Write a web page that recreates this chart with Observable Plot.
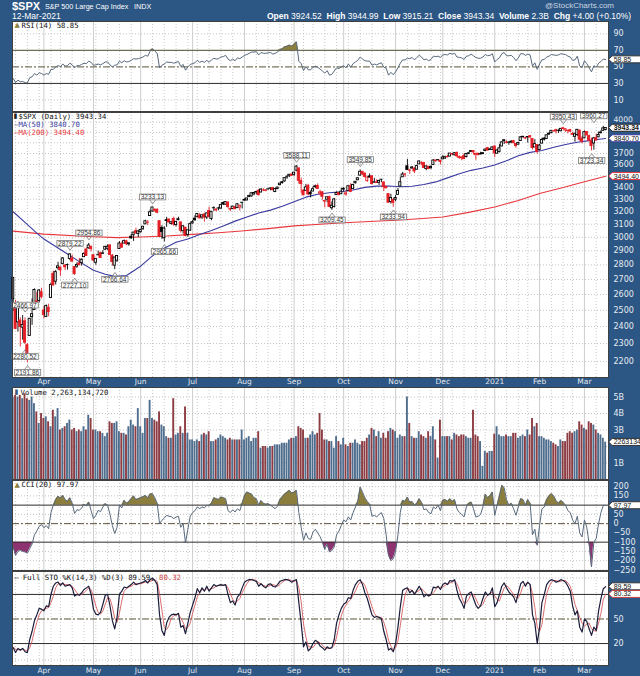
<!DOCTYPE html>
<html><head><meta charset="utf-8">
<script src="https://cdn.jsdelivr.net/npm/d3@7"></script>
<script src="https://cdn.jsdelivr.net/npm/@observablehq/plot@0.6"></script>
<style>
html,body{margin:0;padding:0;background:#2c5684;}
#chart{position:relative;width:640px;height:676px;background:#2c5684;overflow:hidden;}
.pane{position:absolute;left:0;}
.pane svg{display:block;}
.hdr{position:absolute;white-space:nowrap;color:#fff;font-family:"Liberation Sans",Arial,sans-serif;}
</style></head><body>
<div id="chart">
 <div class="hdr" style="left:12px;top:0px;font-size:11px;font-weight:bold;">$SPX</div>
 <div class="hdr" style="left:45px;top:2px;font-size:7.2px;">S&amp;P 500 Large Cap Index</div>
 <div class="hdr" style="left:134px;top:2px;font-size:7.2px;">INDX</div>
 <div class="hdr" style="left:12px;top:11px;font-size:8.5px;">12-Mar-2021</div>
 <div class="hdr" style="left:545px;top:1px;font-size:8px;color:#c9d5e2;">@StockCharts.com</div>
 <div class="hdr" style="left:267px;top:11px;font-size:8.5px;"><b>Open</b> 3924.52&nbsp; <b>High</b> 3944.99&nbsp; <b>Low</b> 3915.21&nbsp; <b>Close</b> 3943.34&nbsp; <b>Volume</b> 2.3B&nbsp; <b>Chg</b> +4.00 (+0.10%)</div>
</div>
<script>
// ---------------- DATA ----------------
const tradingMonths = ["2020-03","2020-04","2020-05","2020-06","2020-07","2020-08","2020-09","2020-10","2020-11","2020-12","2021-01","2021-02","2021-03"];
const tradingDays = [
 [13,16,17,18,19,20,23,24,25,26,27,30,31],
 [1,2,3,6,7,8,9,13,14,15,16,17,20,21,22,23,24,27,28,29,30],
 [1,4,5,6,7,8,11,12,13,14,15,18,19,20,21,22,26,27,28,29],
 [1,2,3,4,5,8,9,10,11,12,15,16,17,18,19,22,23,24,25,26,29,30],
 [1,2,6,7,8,9,10,13,14,15,16,17,20,21,22,23,24,27,28,29,30,31],
 [3,4,5,6,7,10,11,12,13,14,17,18,19,20,21,24,25,26,27,28,31],
 [1,2,3,4,8,9,10,11,14,15,16,17,18,21,22,23,24,25,28,29,30],
 [1,2,5,6,7,8,9,12,13,14,15,16,19,20,21,22,23,26,27,28,29,30],
 [2,3,4,5,6,9,10,11,12,13,16,17,18,19,20,23,24,25,27,30],
 [1,2,3,4,7,8,9,10,11,14,15,16,17,18,21,22,23,24,28,29,30,31],
 [4,5,6,7,8,11,12,13,14,15,19,20,21,22,25,26,27,28,29],
 [1,2,3,4,5,8,9,10,11,12,16,17,18,19,22,23,24,25,26],
 [1,2,3,4,5,8,9,10,11,12]
];
const monthLabels = ["Apr","May","Jun","Jul","Aug","Sep","Oct","Nov","Dec","2021","Feb","Mar"];
const prevClose = 2480.64;

const open = [
2569.99,2508.59,2425.66,2436.50,2393.48,2431.94,2290.71,2344.44,2457.77,2501.29,2555.87,2558.98,2614.69,
2498.08,2458.54,2514.92,2578.28,2738.65,2685.00,2776.99,2782.46,2805.10,2795.64,2799.34,2842.43,2845.62,2784.81,2787.89,2810.42,2812.64,2854.65,2909.96,2918.46,2930.91,
2869.09,2815.01,2868.88,2883.14,2878.26,2908.83,2915.46,2939.50,2865.86,2794.54,2829.95,2913.86,2948.59,2953.63,2969.95,2948.05,3004.08,3015.65,3046.61,3025.17,
3038.78,3064.78,3098.90,3111.56,3163.84,3199.92,3213.32,3213.42,3123.53,3071.04,2993.76,3131.00,3136.13,3101.64,3140.29,3094.42,3138.70,3114.40,3046.60,3073.20,3018.59,3050.20,
3105.92,3143.64,3155.29,3166.44,3153.07,3176.17,3152.47,3205.08,3141.11,3225.98,3208.36,3224.21,3224.29,3268.52,3254.86,3271.64,3218.58,3219.84,3234.27,3227.22,3231.76,3270.45,
3288.26,3289.92,3317.37,3323.17,3340.05,3356.04,3370.34,3355.46,3372.95,3368.66,3380.86,3387.04,3392.51,3360.48,3386.01,3418.09,3435.95,3449.97,3485.14,3494.69,3509.73,
3507.44,3543.76,3564.74,3453.60,3371.88,3369.82,3412.56,3352.70,3363.56,3407.73,3411.23,3346.86,3357.38,3285.57,3295.75,3320.11,3226.14,3236.66,3333.90,3350.92,3341.21,
3385.87,3338.94,3367.27,3408.74,3384.56,3434.28,3459.67,3500.02,3534.01,3515.47,3453.72,3493.50,3493.66,3439.38,3439.91,3438.50,3464.90,3441.42,3403.15,3342.48,3277.17,3293.59,
3296.20,3336.25,3406.46,3485.74,3508.34,3583.04,3543.26,3563.22,3562.67,3552.57,3600.16,3610.31,3612.09,3559.41,3579.31,3566.82,3594.52,3635.50,3638.55,3634.18,
3645.87,3653.78,3668.28,3670.94,3694.73,3683.05,3705.98,3659.13,3656.08,3675.27,3666.41,3696.25,3713.65,3722.39,3684.28,3698.08,3693.42,3694.03,3723.03,3750.01,3736.19,3733.27,
3764.61,3698.02,3712.20,3764.71,3815.05,3803.14,3801.62,3802.23,3814.98,3788.73,3781.88,3816.22,3857.46,3844.24,3851.68,3862.96,3836.83,3755.75,3778.05,
3731.17,3791.84,3840.27,3836.66,3878.30,3892.59,3910.49,3920.78,3916.40,3911.65,3939.61,3918.50,3915.86,3921.16,3885.55,3857.07,3873.71,3915.80,3839.66,
3842.51,3903.64,3863.99,3818.53,3793.58,3844.39,3851.93,3891.99,3915.54,3924.52];
const high = [
2711.33,2562.98,2553.93,2453.57,2466.97,2453.01,2300.73,2449.71,2571.42,2637.01,2615.91,2631.80,2641.39,
2522.75,2533.22,2538.18,2676.85,2756.89,2760.75,2818.57,2782.46,2851.85,2801.88,2806.51,2879.22,2868.98,2785.54,2815.10,2844.90,2842.71,2887.72,2921.15,2954.86,2930.91,
2869.09,2844.24,2898.23,2891.11,2901.92,2932.16,2944.25,2945.82,2874.14,2852.80,2865.01,2968.09,2964.21,2980.29,2978.50,2956.76,3021.72,3036.25,3068.67,3049.17,
3062.18,3081.07,3130.94,3128.91,3211.72,3233.13,3222.71,3223.27,3123.53,3088.42,3079.76,3153.45,3141.16,3120.00,3155.53,3120.92,3154.90,3115.01,3086.25,3073.73,3053.89,3111.51,
3128.44,3165.81,3182.59,3184.15,3171.80,3179.78,3186.82,3235.32,3200.95,3238.28,3220.39,3233.52,3258.61,3277.29,3279.32,3279.99,3227.26,3241.43,3243.72,3264.74,3250.92,3272.17,
3302.73,3306.84,3330.77,3351.03,3352.54,3363.29,3381.01,3387.89,3387.24,3378.51,3387.59,3395.06,3399.54,3390.80,3399.96,3432.09,3444.21,3481.07,3501.38,3509.23,3514.77,
3528.03,3588.11,3564.85,3479.15,3379.97,3424.77,3425.55,3368.95,3402.93,3419.48,3428.92,3375.17,3362.27,3285.57,3320.31,3323.35,3278.70,3306.88,3360.74,3357.92,3393.56,
3397.18,3369.10,3409.57,3431.56,3426.26,3447.28,3482.34,3549.85,3534.01,3527.94,3489.08,3515.76,3502.42,3476.93,3464.86,3460.53,3466.46,3441.42,3409.51,3342.48,3341.05,3304.93,
3330.14,3389.49,3486.25,3529.05,3521.58,3645.99,3557.22,3581.16,3569.02,3593.66,3628.51,3623.11,3619.09,3585.22,3581.23,3589.81,3642.31,3635.50,3644.31,3634.18,
3678.45,3670.96,3682.73,3699.20,3697.41,3708.45,3712.39,3678.49,3665.91,3697.61,3695.29,3711.27,3725.12,3726.70,3702.90,3698.26,3711.24,3703.82,3740.51,3756.12,3744.63,3760.20,
3769.99,3737.83,3783.04,3811.55,3826.69,3817.86,3810.78,3820.96,3823.60,3788.73,3804.53,3859.75,3861.45,3852.31,3859.23,3870.90,3836.83,3830.50,3778.05,
3784.32,3843.09,3847.51,3872.42,3894.56,3915.77,3918.35,3931.50,3925.99,3937.23,3950.43,3933.61,3921.98,3930.41,3902.92,3895.98,3928.65,3925.02,3861.08,
3914.50,3906.41,3874.47,3843.67,3851.69,3881.06,3903.76,3917.35,3960.27,3944.99];
const low = [
2492.37,2380.94,2367.04,2280.52,2319.78,2295.56,2191.86,2344.44,2407.53,2500.72,2520.02,2545.28,2571.15,
2447.49,2455.79,2459.96,2574.57,2657.67,2663.30,2762.36,2721.17,2805.10,2761.54,2764.32,2830.88,2820.43,2727.10,2775.95,2794.26,2791.76,2852.89,2860.71,2912.16,2892.47,
2821.61,2797.85,2863.55,2847.65,2876.48,2902.88,2903.44,2869.59,2793.15,2766.64,2816.78,2913.86,2922.35,2953.63,2938.57,2933.59,2988.17,2969.75,3023.40,2998.61,
3031.54,3051.64,3098.90,3090.41,3163.84,3196.00,3193.11,3181.49,2999.49,2984.47,2965.66,3076.06,3108.03,3093.51,3083.11,3079.39,3127.12,3032.13,3024.01,3004.63,2999.74,3047.83,
3101.17,3124.52,3155.29,3142.93,3136.53,3115.70,3136.22,3149.43,3127.66,3200.76,3198.59,3205.65,3215.16,3247.77,3253.10,3222.66,3200.05,3214.25,3216.17,3227.22,3204.13,3220.26,
3284.53,3286.37,3317.37,3318.14,3328.72,3335.44,3326.44,3355.46,3363.35,3361.64,3379.22,3370.15,3369.66,3354.69,3379.31,3413.13,3425.84,3444.15,3468.35,3484.32,3493.25,
3494.60,3535.23,3427.41,3349.63,3329.27,3366.84,3329.25,3310.47,3363.56,3389.25,3384.45,3328.82,3292.40,3229.10,3270.95,3232.57,3209.45,3228.44,3332.91,3327.54,3340.47,
3361.39,3323.69,3367.27,3354.54,3384.56,3428.15,3458.07,3499.61,3500.86,3480.55,3440.89,3480.45,3419.93,3435.65,3433.06,3415.34,3440.45,3364.86,3388.71,3268.89,3259.82,3233.94,
3279.74,3336.25,3405.17,3485.74,3484.34,3547.48,3511.91,3557.00,3518.58,3552.57,3600.16,3588.68,3567.33,3543.84,3556.85,3552.77,3594.52,3617.76,3629.33,3594.39,
3645.87,3644.84,3657.17,3670.94,3678.88,3678.83,3660.54,3645.18,3633.40,3645.84,3659.62,3688.57,3710.87,3685.84,3636.48,3676.16,3689.28,3689.32,3723.03,3723.31,3730.21,3726.88,
3662.71,3695.07,3705.34,3764.71,3783.60,3789.02,3776.51,3791.50,3792.86,3749.62,3780.37,3816.22,3845.05,3830.41,3797.16,3847.78,3732.48,3755.75,3694.12,
3725.62,3791.84,3816.68,3836.66,3874.93,3892.59,3902.64,3884.94,3890.39,3905.78,3923.85,3900.43,3885.03,3903.07,3874.71,3805.59,3859.60,3814.04,3789.54,
3842.51,3868.57,3818.86,3723.34,3730.19,3819.25,3851.93,3885.73,3915.54,3915.21];
const close = [
2711.02,2386.13,2529.19,2398.10,2409.39,2304.92,2237.40,2447.33,2475.56,2630.07,2541.47,2626.65,2584.59,
2470.50,2526.90,2488.65,2663.68,2659.41,2749.98,2789.82,2761.63,2846.06,2783.36,2799.55,2874.56,2823.16,2736.56,2799.31,2797.80,2836.74,2878.48,2863.39,2939.51,2912.43,
2830.71,2842.74,2868.44,2848.42,2881.19,2929.80,2930.32,2870.12,2820.00,2852.50,2863.70,2953.91,2922.94,2971.61,2948.51,2955.45,2991.77,3036.13,3029.73,3044.31,
3055.73,3080.82,3122.87,3112.35,3193.93,3232.39,3207.18,3190.14,3002.10,3041.31,3066.59,3124.74,3113.49,3115.34,3097.74,3117.86,3131.29,3050.33,3083.76,3009.05,3053.24,3100.29,
3115.86,3130.01,3179.72,3145.32,3169.94,3152.05,3185.04,3155.22,3197.52,3226.56,3215.57,3224.73,3251.84,3257.30,3276.02,3235.66,3215.63,3239.41,3218.44,3258.44,3246.22,3271.12,
3294.61,3306.51,3327.77,3349.16,3351.28,3360.47,3333.69,3380.35,3373.43,3372.85,3381.99,3389.78,3374.85,3385.51,3397.16,3431.28,3443.62,3478.73,3484.55,3508.01,3500.31,
3526.65,3580.84,3455.06,3426.96,3331.84,3398.96,3339.19,3340.97,3383.54,3401.20,3385.49,3357.01,3319.47,3281.06,3315.57,3236.92,3246.59,3298.46,3351.60,3335.47,3363.00,
3380.80,3348.42,3408.60,3360.97,3419.44,3446.83,3477.14,3534.22,3511.93,3488.67,3483.34,3483.81,3426.92,3443.12,3435.56,3453.49,3465.39,3400.97,3390.68,3271.03,3310.11,3269.96,
3310.24,3369.16,3443.44,3510.45,3509.44,3550.50,3545.53,3572.66,3537.01,3585.15,3626.91,3609.53,3567.79,3581.87,3557.54,3577.59,3635.41,3629.65,3638.35,3621.63,
3662.45,3669.01,3666.72,3699.12,3691.96,3702.25,3672.82,3668.10,3663.46,3647.49,3694.62,3701.17,3722.48,3709.41,3694.92,3687.26,3690.01,3703.06,3735.36,3727.04,3732.04,3756.07,
3700.65,3726.86,3748.14,3803.79,3824.68,3799.61,3801.19,3809.84,3795.54,3768.25,3798.91,3851.85,3853.07,3841.47,3855.36,3849.62,3750.77,3787.38,3714.24,
3773.86,3826.31,3830.17,3871.74,3886.83,3915.59,3911.23,3909.88,3916.38,3934.83,3932.59,3931.33,3913.97,3906.71,3876.50,3881.37,3925.43,3829.34,3811.15,
3901.82,3870.29,3819.72,3768.47,3841.94,3821.35,3875.44,3898.81,3939.34,3943.34];
// volume in billions
const volume = [
5.0,5.1,5.0,5.1,4.9,5.2,4.9,4.8,5.0,4.6, 4.1,3.4,4.0,3.7,3.8,3.5,3.2,4.2,3.8,4.3,
3.0,3.1,3.2,3.4,3.6,3.0,3.1,2.9,3.0,2.9, 3.2,3.0,3.9,3.7,3.0,3.0,2.9,2.9,2.8,2.6,
2.8,3.5,3.4,3.4,3.5,2.9,2.8,2.8,2.7,3.2, 3.6,3.3,3.2,4.3,3.2,2.8,3.7,3.7,4.8,3.7,
3.6,3.5,4.1,3.3,3.2,2.6,2.5,2.5,4.9,2.7, 2.8,3.2,2.8,4.4,2.8,2.4,2.4,2.3,2.4,2.3,
2.7,2.8,2.7,2.9,2.3,2.3,2.4,2.5,2.7,2.6, 2.5,2.4,2.5,2.4,2.4,2.4,2.4,3.0,2.4,2.5,
2.6,2.3,2.5,2.5,2.9,1.9,2.0,2.0,1.9,2.0, 2.0,2.1,2.1,2.1,2.2,2.2,2.2,2.4,2.5,2.5,
2.6,3.2,3.1,3.0,2.5,2.5,2.7,2.9,2.7,2.8, 4.0,3.0,2.4,2.4,2.3,2.3,1.9,2.6,2.3,2.1,
2.5,2.1,2.0,2.2,2.2,2.4,2.2,2.1,2.3,2.3, 2.5,2.7,3.1,3.0,2.6,2.9,2.5,2.8,2.5,2.9,
3.1,3.0,2.9,2.5,2.7,2.6,2.6,5.0,3.4,2.6, 2.5,2.5,2.9,2.7,2.6,2.5,2.9,2.6,3.2,2.4,
1.3,3.6,2.6,2.6,2.6,2.6,2.4,2.8,2.7,2.6, 2.7,2.7,2.6,2.5,2.5,4.2,2.7,2.6,2.3,0.8,
1.7,1.6,1.7,1.7,2.75,3.2,2.7,2.6,2.6,2.7, 2.6,2.6,2.8,2.8,2.5,2.6,2.7,2.6,3.0,2.7,
3.7,3.2,3.4,2.6,2.6,2.5,2.4,2.4,2.3,2.2, 2.1,2.0,2.4,2.3,2.3,2.8,2.9,2.8,2.9,3.0,
3.5,3.3,3.1,3.0,3.5,3.4,3.3,3.0,2.8,2.7, 2.5,2.263];
const rsi = [
36,31,34,32,32.5,31,30.5,37,38,42, 40,43,42,40,42,41,47,47,50,51.5,
50.5,53.5,51,51.5,54.5,52.5,49,51.5,51.5,53, 54.5,54,57,55.5,52,52.5,53.5,52.5,54,56,
56,52.5,50,52,52.5,57,55,57.5,56,56.5, 58,60,59.5,60,61,62,64,63,69,72,
69,66.5,49,52,53.5,56,55.5,55.5,54.5,55.5, 56.5,50.5,53,46,50,53,54,55,58,55.5,
57,55.5,58,55.5,58.5,60.5,59.5,60,62,62.5, 64,59.5,57.5,59.5,57.5,61,60,62,64,65,
66.5,68,68,68.5,64.5,67.5,66.5,66.5,67,67.5, 65.5,66.5,68,71,72,74.5,75,76.5,75,77.5,
80.5,57,54,45.5,50.5,46.5,46.5,49.5,51,49.5, 47.5,45,42.5,45.5,40,41,45,49,48,50,
51.5,49,53.5,49.5,54,56,58,62,59.5,57.5, 57,57,52,53.5,52.5,54,55,49.5,48.5,40,
43.5,40.5,44,49,54.5,58.5,58.5,60.5,60,61.5, 58.5,61.5,64,62,58.5,59.5,57.5,59,63,62.5,
63,61.5,64.5,65,64.5,66.5,65.5,66.5,62,61.5, 61,59,63,63.5,65.5,63.5,61.5,60.5,60.5,62,
65,63.5,64,66,56,59,61,66,67.5,63.5, 63.5,64,61.5,57.5,61,66,66,64,65.5,64.5,
51,55,47,53.5,58.5,59,62,63,65,64.5, 64,64.5,66,65.5,65,63,62,58,58.5,63,
51,49,57.5,54,49,44,51.5,49.5,54.5,56.5, 59.5,58.85];
const cci = [
-126,-171,-150,-144,-150,-153,-160,-135,-110,-60, -40,-15,-5,-22,-10,-27,60,100,130,148,
138,153,130,120,140,110,55,75,72,85, 105,95,117,70,27,45,72,65,90,108,
100,50,-10,-54,-20,100,85,126,110,118, 135,150,130,135,140,145,153,138,160,162,
140,110,0,18,30,45,40,38,27,35, 40,-20,0,-104,-30,40,60,70,90,81,
90,85,99,95,110,140,135,130,144,140, 135,70,60,75,63,80,70,110,150,171,
165,160,140,135,100,125,110,105,108,100, 90,81,95,130,145,160,170,180,165,170,
180,60,-20,-90,-50,-80,-85,-45,-30,-50, -70,-100,-140,-110,-153,-145,-126,-60,-40,-10,
20,10,36,20,60,90,120,198,170,140, 120,105,40,45,36,50,60,27,-60,-170,
-200,-190,-150,-60,60,126,120,144,115,120, 100,110,135,115,75,80,60,54,90,81,
100,70,126,130,120,135,120,130,80,60, 50,36,90,110,117,80,36,40,50,90,
160,140,150,171,45,100,150,207,195,130, 100,110,80,45,90,135,130,100,130,110,
-60,-30,-117,-10,80,90,130,150,162,150, 125,110,125,115,100,70,60,20,0,40,
-50,-72,20,-20,-110,-234,-100,-80,0,60, 99,97.97];
const stoK = [
15,9,14,12,14,10,9,25,35,48, 55,63,62,60,66,65,80,90,94,95,
91,94,90,91,92,88,78,80,79,82, 86,88,90,80,62,56,55,58,68,79,
80,66,48,38,52,80,84,89,88,90, 92,95,92,93,94,95,97,94,98,100,
97,92,55,36,30,45,52,55,56,55, 57,40,42,32,45,58,67,76,87,82,
88,84,90,84,88,92,90,91,92,91, 92,80,70,72,67,77,80,88,95,97,
98,98,97,96,90,93,90,88,92,93, 90,89,92,96,97,98,98,97,95,97,
98,70,45,16,22,11,14,20,24,22, 17,15,12,16,14,15,25,45,55,63,
68,70,76,75,85,92,96,98,92,82, 75,65,55,52,53,52,50,35,25,12,
14,10,20,40,65,85,87,88,82,85, 80,85,90,85,77,80,78,80,89,88,
90,86,92,94,92,97,96,98,85,75, 70,63,78,81,83,75,67,63,66,75,
83,79,81,88,65,70,80,90,94,88, 83,80,77,70,82,93,96,90,95,92,
55,45,20,40,70,80,92,96,98,97, 95,96,98,97,95,90,84,66,55,60,
40,34,50,47,38,30,40,36,60,75, 87,89.59];
const stoD = [
16,13,12.7,11.7,13.3,12,11,14.7,23,36, 46,55,60,62,63,64,70,78,88,93,
93,93,92,92,91,90,86,82,79,80, 82,85,88,86,77,66,58,56,60,68,
76,75,65,51,46,57,72,84,87,89, 90,92,93,93,93,94,95,95,96,97,
98,96,81,61,40,37,42,51,54,55, 56,51,46,38,40,45,57,67,77,82,
86,85,87,86,87,88,90,91,91,91, 92,88,81,74,70,72,75,82,88,93,
97,98,98,97,94,93,91,90,90,91, 92,91,90,92,95,97,98,98,97,96,
97,88,71,44,28,16,16,15,19,22, 21,18,15,14,14,15,18,28,42,54,
62,67,71,74,79,84,91,95,95,91, 83,74,65,57,53,52,52,46,37,24,
17,12,15,23,42,63,79,87,86,85, 82,83,85,87,84,81,78,79,82,86,
89,88,89,91,93,94,95,97,93,86, 77,69,70,74,81,80,75,68,65,68,
75,79,81,83,78,74,72,80,88,91, 88,84,80,76,76,82,90,93,94,92,
81,64,40,35,43,63,81,89,95,97, 97,96,96,97,97,94,90,80,68,60,
52,45,41,44,45,38,36,35,45,57, 74,80.32];
const ma50Idx = [0,5,10,13,23,28,34,39,43,48,54,59,64,69,74,79,84,89,94,99,104,109,114,119,124,129,134,139,144,149,154,159,164,169,174,179,184,189,194,199,204,209,214,219,224,229,234,239,244,249,251];
const ma50Val = [3198,3114,3032,2987,2877,2823,2763,2735,2721,2727,2791,2864,2919,2963,2988,3022,3051,3087,3124,3157,3188,3211,3242,3280,3317,3341,3354,3362,3377,3399,3410,3411,3405,3409,3423,3446,3481,3517,3547,3568,3595,3633,3679,3710,3728,3757,3784,3805,3821,3836,3840.70];
const ma200Idx = [0,13,34,44,54,65,76,87,98,109,119,130,140,151,162,172,182,193,204,214,223,233,242,251];
const ma200Val = [3047,3024,3004,2998,3003,3010,3022,3035,3050,3068,3087,3100,3111,3121,3131,3143,3157,3193,3236,3290,3348,3398,3447,3494.40];
const calloutIdx = [4,3,6,24,26,32,43,59,64,120,135,147,161,233,245,250];
const calloutVal = [2466.97,2280.52,2191.86,2879.22,2727.10,2954.86,2766.64,3233.13,2965.66,3588.11,3209.45,3549.85,3233.94,3950.43,3723.34,3960.27];
const calloutSide = ["high","low","low","high","low","high","low","high","low","high","low","high","low","high","low","high"];
const priceTicks = [2200,2300,2400,2500,2600,2700,2800,2900,3000,3100,3200,3300,3400,3600,3700];
const priceTopTick = [4000];
const priceGrid = [2200,2300,2400,2500,2600,2700,2800,2900,3000,3100,3200,3300,3400,3500,3600,3700,3800,3900,4000];
const rsiTicks = [10,30,50,70,90];
const volTicks = [1e9,3e9,4e9,5e9];
const cciTicks = [-250,-200,-150,-100,-50,0,50,150,200];
const stoTicks = [20,50];

// ---------------- BUILD ----------------
const NS = "http://www.w3.org/2000/svg";
const W = 640, ML = 12, MR = 32, XD = [-0.3, 252.2];
const dates = [];
tradingMonths.forEach((m, k) => { const [y, mo] = m.split("-").map(Number); tradingDays[k].forEach(d => dates.push(new Date(y, mo - 1, d))); });
const N = dates.length;
const monthIdx = [], weekIdx = [];
for (let k = 1; k < N; k++) {
  if (dates[k].getMonth() !== dates[k-1].getMonth()) monthIdx.push(k);
  else if (dates[k].getDay() < dates[k-1].getDay()) weekIdx.push(k);
}
const rows = dates.map((d, i) => ({i, o: open[i], h: high[i], l: low[i], c: close[i], pc: i ? close[i-1] : prevClose,
  v: volume[i] * 1e9, rsi: rsi[i], cci: cci[i], k: stoK[i], d: stoD[i]}));
const ma50 = ma50Idx.map((i, k) => ({i, v: ma50Val[k]}));
const ma200 = ma200Idx.map((i, k) => ({i, v: ma200Val[k]}));
const callouts = calloutIdx.map((i, k) => ({i, v: calloutVal[k], side: calloutSide[k]}));

const RED = "#e41f26", OLIVE = "#8c7f3e", MAUVE = "#8d3470", LINE = "#58697c";
const isDown = r => r.c < r.pc;
const style = {fontFamily: "DejaVu Sans", fontSize: "8px", color: "#e6ecf3", background: "transparent", overflow: "visible"};
const LEG = {fontFamily: "DejaVu Sans Mono", fontSize: 7.3, textAnchor: "start", lineAnchor: "top", frameAnchor: "top-left"};

function base(gridY) {
  return [
    Plot.frame({fill: "#ffffff", stroke: "none"}),
    Plot.ruleY(gridY, {stroke: "#b4b4b4", strokeDasharray: "1,2", strokeWidth: 0.8}),
    Plot.ruleX(weekIdx, {stroke: "#bcbcbc", strokeDasharray: "1,2", strokeWidth: 0.8}),
    Plot.ruleX(monthIdx, {stroke: "#c2c2c2", strokeWidth: 0.8})
  ];
}
function leg(txt, color, dx, dy, extra = {}) {
  return Plot.text([txt], {...LEG, dx, dy, text: d => d, fill: color, ...extra});
}
function tag(val, txt, weight) {
  return Plot.text([val], {x: () => N - 1, y: d => d, text: () => txt, dx: 8, textAnchor: "start",
    fill: "#111", fontSize: 7, fontFamily: "Liberation Sans", fontWeight: weight || "normal"});
}
function monthAxis(dy) {
  return Plot.text(monthIdx, {x: d => d, text: (d, k) => monthLabels[k], frameAnchor: "bottom", dy,
    fill: "#e2e8ef", fontSize: 7.5, fontFamily: "DejaVu Sans", fontWeight: (d, k) => monthLabels[k] === "2021" ? "bold" : "normal"});
}
function frameTop() { return Plot.frame({stroke: "#404040", strokeWidth: 1}); }

function addPane(top, plot) {
  const div = document.createElement("div");
  div.className = "pane"; div.style.top = top + "px";
  div.appendChild(plot);
  document.getElementById("chart").appendChild(div);
  return plot;
}

// RSI
const rsiPlot = addPane(21, Plot.plot({
  width: W, height: 90, marginLeft: ML, marginRight: MR, marginTop: 0, marginBottom: 0, style,
  x: {domain: XD, axis: null},
  y: {domain: [-4, 105], axis: "right", ticks: rsiTicks, tickSize: 0, tickPadding: 5, label: null},
  marks: [
    ...base([10, 90]),
    Plot.areaY(rows, {x: "i", y1: 70, y2: r => Math.max(70, r.rsi), fill: OLIVE}),
    Plot.ruleY([70], {stroke: "#6e6e58", strokeWidth: 1.2}),
    Plot.ruleY([30], {stroke: "#2c2c2c", strokeWidth: 1}),
    Plot.ruleY([50], {stroke: "#5a5238", strokeWidth: 1, strokeDasharray: "7,2,2,2"}),
    Plot.lineY(rows, {x: "i", y: "rsi", stroke: LINE, strokeWidth: 1}),
    leg("▲", OLIVE, 2, 1, {fontFamily: "DejaVu Sans", fontSize: 7}),
    leg("RSI(14) 58.85", "#111", 9, 1),
    tag(58.85, "58.85"),
    frameTop()
  ]
}));

// PRICE
const pricePlot = addPane(112, Plot.plot({
  width: W, height: 275, marginLeft: ML, marginRight: MR, marginTop: 0, marginBottom: 10, style,
  x: {domain: XD, axis: null},
  y: {type: "log", domain: [2113, 4099], axis: "right", ticks: priceTicks, tickFormat: d => String(d), tickSize: 0, tickPadding: 5, label: null},
  marks: [
    ...base(priceGrid),
    Plot.line(ma200, {x: "i", y: "v", stroke: "#e8383d", strokeWidth: 1.1}),
    Plot.line(ma50, {x: "i", y: "v", stroke: "#3a3aa0", strokeWidth: 1.1}),
    Plot.ruleX(rows, {x: "i", y1: "l", y2: "h", stroke: r => isDown(r) ? RED : "#000", strokeWidth: 0.9}),
    Plot.rect(rows, {x1: r => r.i - 0.45, x2: r => r.i + 0.45, y1: "o", y2: "c",
      fill: r => r.c > r.o ? "#fff" : (isDown(r) ? RED : "#000"), stroke: r => isDown(r) ? RED : "#000", strokeWidth: 0.9}),
    Plot.text(callouts.filter(c => c.side === "high"), {x: "i", y: "v", text: c => c.v.toFixed(2), dy: -10, fontSize: 6.5, fontFamily: "Liberation Sans", fill: "#333"}),
    Plot.text(callouts.filter(c => c.side === "low"), {x: "i", y: "v", text: c => c.v.toFixed(2), dy: 10, fontSize: 6.5, fontFamily: "Liberation Sans", fill: "#333"}),
    Plot.text(priceTopTick, {frameAnchor: "right", y: d => d, text: d => String(d), dx: 5, dy: -0.5, textAnchor: "start", lineAnchor: "bottom", fill: "#e6ecf3", fontSize: 7.6, fontFamily: "DejaVu Sans"}),
    leg("▮", "#222", 1, 1, {fontFamily: "DejaVu Sans", fontSize: 7}),
    leg("$SPX (Daily) 3943.34", "#111", 6, 1),
    leg("—MA(50) 3840.70", "#3a3aa0", 1.5, 9.3),
    leg("—MA(200) 3494.40", "#e8383d", 1.5, 17.6),
    tag(3494.40, "3494.40"),
    tag(3840.70, "3840.70"),
    tag(3943.34, "3943.34", "bold"),
    frameTop(),
    monthAxis(6)
  ]
}));

// VOLUME
const volPlot = addPane(387, Plot.plot({
  width: W, height: 92, marginLeft: ML, marginRight: MR, marginTop: 0, marginBottom: 0, style,
  x: {domain: XD, axis: null},
  y: {domain: [0, 5.58e9], axis: "right", ticks: volTicks, tickFormat: d => (d / 1e9) + "B", tickSize: 0, tickPadding: 5, label: null},
  marks: [
    ...base([1e9, 2e9, 3e9, 4e9, 5e9]),
    Plot.rect(rows, {x1: r => r.i - 0.4, x2: r => r.i + 0.4, y1: 0, y2: "v", fill: r => isDown(r) ? "#8c3c42" : "#4f6e8e"}),
    leg("▮", "#3d5a78", 2, 2, {fontFamily: "DejaVu Sans", fontSize: 7}),
    leg("Volume 2,263,134,720", "#111", 8, 2),
    tag(2.263134720e9, "2263134720"),
    frameTop()
  ]
}));

// CCI
const cciPlot = addPane(480, Plot.plot({
  width: W, height: 90, marginLeft: ML, marginRight: MR, marginTop: 0, marginBottom: 0, style,
  x: {domain: XD, axis: null},
  y: {domain: [-253, 233], axis: "right", ticks: cciTicks, tickSize: 0, tickPadding: 5, label: null},
  marks: [
    ...base([-250, -200, -150, -50, 50, 150, 200]),
    Plot.areaY(rows, {x: "i", y1: 100, y2: r => Math.max(100, r.cci), fill: OLIVE}),
    Plot.areaY(rows, {x: "i", y1: -100, y2: r => Math.min(-100, r.cci), fill: MAUVE}),
    Plot.ruleY([100, -100], {stroke: "#2c2c2c", strokeWidth: 1}),
    Plot.ruleY([0], {stroke: "#5a5238", strokeWidth: 1, strokeDasharray: "7,2,2,2"}),
    Plot.lineY(rows, {x: "i", y: "cci", stroke: LINE, strokeWidth: 1}),
    leg("▲", OLIVE, 2, 1.5, {fontFamily: "DejaVu Sans", fontSize: 7}),
    leg("CCI(20) 97.97", "#111", 9, 1.5),
    tag(97.97, "97.97"),
    frameTop()
  ]
}));

// STO
const stoPlot = addPane(571, Plot.plot({
  width: W, height: 105, marginLeft: ML, marginRight: MR, marginTop: 0, marginBottom: 11, style,
  x: {domain: XD, axis: null},
  y: {domain: [-6.8, 108], axis: "right", ticks: stoTicks, tickSize: 0, tickPadding: 5, label: null},
  marks: [
    ...base([0, 100]),
    Plot.ruleY([80, 20], {stroke: "#2c2c2c", strokeWidth: 1}),
    Plot.ruleY([50], {stroke: "#5a5238", strokeWidth: 1, strokeDasharray: "7,2,2,2"}),
    Plot.lineY(rows, {x: "i", y: "d", stroke: "#d0474b", strokeWidth: 0.8}),
    Plot.lineY(rows, {x: "i", y: "k", stroke: "#1b1d3a", strokeWidth: 1.2}),
    leg("— Full STO %K(14,3) %D(3) 89.59,", "#111", 1.5, 3.5),
    leg("80.32", "#c83c40", 146.5, 3.5),
    tag(89.59, "89.59"),
    tag(80.32, "80.32"),
    frameTop(),
    monthAxis(7)
  ]
}));

// ---------------- POST: boxes for tags & callouts ----------------
function el(name, attrs) { const e = document.createElementNS(NS, name); for (const k in attrs) e.setAttribute(k, attrs[k]); return e; }
function boxText(svg, t, stroke, opts = {}) {
  const b = t.getBBox();
  const px = opts.padX ?? 1.5, py = opts.padY ?? 0;
  const x0 = b.x - px, y0 = b.y - py, w = b.width + 2 * px, h = b.height + 2 * py;
  const tr = t.getAttribute("transform");
  const g = el("g", {});
  t.parentNode.insertBefore(g, t);
  let shape;
  if (opts.arrowLeft) {
    const m = y0 + h / 2;
    shape = el("path", {d: `M${x0},${y0}H${x0 + w + 30}V${y0 + h}H${x0}L${x0 - 3.5},${m}Z`, fill: "#fff", stroke, "stroke-width": 1});
  } else {
    shape = el("rect", {x: x0, y: y0, width: w, height: h, fill: "#fff", stroke, "stroke-width": 0.8});
  }
  if (tr) shape.setAttribute("transform", tr);
  g.appendChild(shape);
  if (opts.pointer) {
    const cx = x0 + w / 2;
    const d = opts.pointer === "down"
      ? `M${cx - 3},${y0 + h}L${cx},${y0 + h + 4}L${cx + 3},${y0 + h}`
      : `M${cx - 3},${y0}L${cx},${y0 - 4}L${cx + 3},${y0}`;
    const p = el("path", {d, fill: "none", stroke, "stroke-width": 0.8});
    if (tr) p.setAttribute("transform", tr);
    g.appendChild(p);
  }
  g.appendChild(t);
  if (opts.clamp) {
    const sb = svg.getBoundingClientRect(), r = shape.getBoundingClientRect();
    const left = r.left - sb.left, right = r.right - sb.left;
    let shift = 0;
    if (right > opts.clamp[1]) shift = opts.clamp[1] - right;
    if (left < opts.clamp[0]) shift = opts.clamp[0] - left;
    if (shift) g.setAttribute("transform", `translate(${shift},0)`);
  }
}
function boxify(svg, txt, stroke, opts = {}) {
  const sb = svg.getBoundingClientRect();
  svg.querySelectorAll("text").forEach(t => {
    if (t.textContent !== txt) return;
    const r = t.getBoundingClientRect();
    if (opts.rightOnly && r.left - sb.left < 600) return;
    boxText(svg, t, stroke, opts);
  });
}
boxify(rsiPlot, "58.85", "#333", {arrowLeft: true, rightOnly: true});
boxify(pricePlot, "3494.40", "#e8383d", {arrowLeft: true, rightOnly: true});
boxify(pricePlot, "3840.70", "#3a3aa0", {arrowLeft: true, rightOnly: true});
boxify(pricePlot, "3943.34", "#222", {arrowLeft: true, rightOnly: true});
callouts.forEach(c => boxify(pricePlot, c.v.toFixed(2), "#7a7a7a", {pointer: c.side === "high" ? "down" : "up", padX: 1.2, padY: -0.6, clamp: [12, 607]}));
boxify(volPlot, "2263134720", "#333", {arrowLeft: true, rightOnly: true});
boxify(cciPlot, "97.97", "#333", {arrowLeft: true, rightOnly: true});
boxify(stoPlot, "89.59", "#333", {arrowLeft: true, rightOnly: true});
boxify(stoPlot, "80.32", "#c83c40", {arrowLeft: true, rightOnly: true});
</script>
</body></html>
